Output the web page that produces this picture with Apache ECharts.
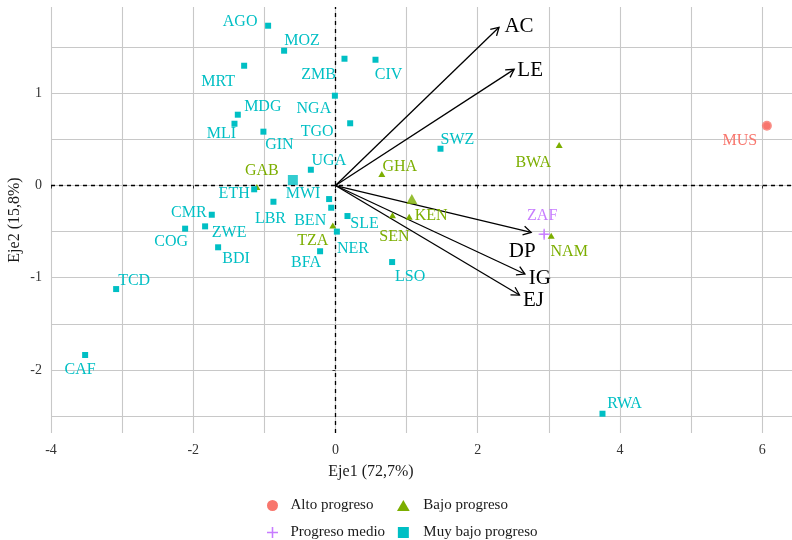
<!DOCTYPE html>
<html><head><meta charset="utf-8">
<script src="https://cdn.jsdelivr.net/npm/echarts@6/dist/echarts.min.js"></script>
<style>html,body{margin:0;padding:0;background:#fff}#c{width:792px;height:540px}</style>
</head><body><div id="c"></div>
<script>
// ---- data ----
const altoNames = ['MUS'];
const altoX = [6.067];
const altoY = [0.649];

const medioNames = ['ZAF'];
const medioX = [2.935];
const medioY = [-0.529];

const bajoNames = ['GAB','GHA','KEN','SEN','TZA','NAM','BWA'];
const bajoX = [-1.105, 0.652, 1.037, 0.802, -0.037, 3.034, 3.146];
const bajoY = [-0.016, 0.125, -0.338, -0.323, -0.434, -0.544, 0.439];

const muyNames = ['AGO','MOZ','MRT','ZMB','CIV','NGA','TGO','MDG','MLI','GIN','UGA','ETH','LBR','MWI','BEN','SLE','NER','BFA','CMR','ZWE','COG','BDI','TCD','CAF','SWZ','LSO','RWA'];
const muyX = [-0.947,-0.722,-1.284,0.127,0.563,-0.008,0.207,-1.373,-1.420,-1.013,-0.346,-1.143,-0.872,-0.089,-0.060,0.169,0.020,-0.216,-1.739,-1.833,-2.114,-1.650,-3.084,-3.520,1.477,0.797,3.755];
const muyY = [1.733,1.462,1.299,1.375,1.364,0.974,0.675,0.768,0.670,0.584,0.171,-0.041,-0.176,-0.147,-0.241,-0.331,-0.500,-0.713,-0.317,-0.443,-0.468,-0.670,-1.123,-1.838,0.399,-0.830,-2.475];

// group mean points (Alto, Medio, Bajo, Muy bajo)
const centroidX = [6.067, 2.935, 1.074, -0.599];
const centroidY = [0.649, -0.529, -0.146, 0.060];

// variable arrows
const varNames = ['AC','LE','DP','IG','EJ'];
const varX = [2.300, 2.513, 2.752, 2.664, 2.588];
const varY = [1.716, 1.260, -0.508, -0.960, -1.188];

const xTickLabels = [-4, -2, 0, 2, 4, 6];
const yTickLabels = [-2, -1, 0, 1];

const groupNames = ['Alto progreso', 'Progreso medio', 'Bajo progreso', 'Muy bajo progreso'];

// ---- layout / style (label offsets in px) ----
const labelOffset = {
  MUS:[-27,15], ZAF:[-2,-18],
  GAB:[5,-16], GHA:[18,-7], KEN:[22,-1], SEN:[2,21], TZA:[-20,15], NAM:[18,16], BWA:[-26,18],
  AGO:[-28,-4], MOZ:[18,-10], MRT:[-26,16], ZMB:[-26,16], CIV:[13,15], NGA:[-21,13], TGO:[-33,9],
  MDG:[25,-8], MLI:[-13,10], GIN:[16,13], UGA:[18,-9], ETH:[-20,5], LBR:[-3,17], MWI:[-26,-5],
  BEN:[-21,13], SLE:[17,8], NER:[16,17], BFA:[-14,12], CMR:[-23,-2], ZWE:[24,6], COG:[-14,13],
  BDI:[18,12], TCD:[18,-8], CAF:[-5,15], SWZ:[17,-9], LSO:[18,15], RWA:[22,-10]
};
const varLabelOffset = [[20,-1],[16,1],[-9,19],[15,4],[14,5]];
const colors = ['#F8766D', '#C77CFF', '#7CAE00', '#00BFC4'];
const plusPath = 'path://M4.3,0H5.7V10H4.3Z M0,4.3H10V5.7H0Z';
const triPath = 'path://M5,0L10,8.66L0,8.66Z';
const sqPath = 'path://M0,0H10V10H0Z';
const symbols = ['circle', plusPath, 'triangle', 'rect'];
const pointSizes = [7, 8, [7,6], 6];
const centroidSizes = [10, 11, [11,10], 10];
const serif = '"Liberation Serif", "DejaVu Serif", serif';
const groupNameLists = [altoNames, medioNames, bajoNames, muyNames];

function mk(names, xs, ys) {
  return names.map((n, i) => ({ name: n, value: [xs[i], ys[i]] }));
}
const groupData = [mk(altoNames, altoX, altoY), mk(medioNames, medioX, medioY), mk(bajoNames, bajoX, bajoY), mk(muyNames, muyX, muyY)];

const chart = echarts.init(document.getElementById('c'), null, { renderer: 'canvas' });

const series = [];
groupNames.forEach((g, gi) => {
  series.push({
    name: g, type: 'scatter', xAxisIndex: 0, yAxisIndex: 0,
    symbol: symbols[gi], symbolSize: pointSizes[gi],
    itemStyle: { color: colors[gi], opacity: 1 },
    data: groupData[gi],
    label: { show: true, position: 'inside', formatter: '{b}', color: colors[gi], fontFamily: serif, fontSize: 16 },
    labelLayout: function (p) {
      const n = groupNameLists[gi][p.dataIndex];
      const o = labelOffset[n] || [0, 0];
      return { dx: o[0], dy: o[1], hideOverlap: false };
    },
    z: 5
  });
});
// mean points
series.push({
  name: 'centroids', type: 'scatter', xAxisIndex: 0, yAxisIndex: 0,
  data: centroidX.map((x, i) => ({
    value: [x, centroidY[i]], symbol: symbols[i], symbolSize: centroidSizes[i],
    itemStyle: { color: colors[i] }
  })),
  z: 6, silent: true
});
// dashed zero lines
series.push({
  name: 'zero', type: 'scatter', data: [], xAxisIndex: 0, yAxisIndex: 0,
  markLine: {
    silent: true, symbol: ['none', 'none'], label: { show: false },
    lineStyle: { color: '#000', type: [4, 4], width: 1.3 },
    data: [{ xAxis: 0 }, { yAxis: 0 }], animation: false
  },
  z: 3
});
// variable arrows
series.push({
  name: 'vars', type: 'custom', coordinateSystem: 'cartesian2d', xAxisIndex: 0, yAxisIndex: 0,
  data: varX.map((x, i) => [x, varY[i]]),
  encode: { x: 0, y: 1 }, clip: false, z: 4,
  renderItem: function (params, api) {
    const i = params.dataIndex;
    const p0 = api.coord([0, 0]);
    const p1 = api.coord([api.value(0), api.value(1)]);
    const ang = Math.atan2(p1[1] - p0[1], p1[0] - p0[0]);
    const L = 9, a = Math.PI / 6;
    const h1 = [p1[0] - L * Math.cos(ang - a), p1[1] - L * Math.sin(ang - a)];
    const h2 = [p1[0] - L * Math.cos(ang + a), p1[1] - L * Math.sin(ang + a)];
    const off = varLabelOffset[i];
    return {
      type: 'group',
      children: [
        { type: 'line', shape: { x1: p0[0], y1: p0[1], x2: p1[0], y2: p1[1] }, style: { stroke: '#000', lineWidth: 1.3 } },
        { type: 'polyline', shape: { points: [h1, p1, h2] }, style: { stroke: '#000', lineWidth: 1.3, fill: null } },
        { type: 'text', style: { text: varNames[i], x: p1[0] + off[0], y: p1[1] + off[1], fill: '#000', font: '21px ' + serif, align: 'center', verticalAlign: 'middle' } }
      ]
    };
  }
});

const gridColor = '#c8c8c8';
const legendText = { fontFamily: serif, fontSize: 15, color: '#1a1a1a', lineHeight: 11 };
chart.setOption({
  animation: false,
  backgroundColor: '#fff',
  grid: { left: 51, right: 0, top: 7, bottom: 107, containLabel: false },
  xAxis: [
    { type: 'value', min: -4, max: 6.42, interval: 1,
      axisLine: { show: false }, axisTick: { show: false }, axisLabel: { show: false },
      splitLine: { show: true, showMinLine: true, showMaxLine: false, lineStyle: { color: gridColor, width: 1.1 } } },
    { type: 'value', min: -4, max: 6.42, position: 'bottom', offset: 0,
      axisLine: { show: false },
      axisTick: { show: true, length: 3, customValues: xTickLabels, lineStyle: { color: '#333' } },
      axisLabel: { show: true, customValues: xTickLabels, margin: 10, color: '#333', fontFamily: serif, fontSize: 14 },
      splitLine: { show: false } }
  ],
  yAxis: [
    { type: 'value', min: -2.684, max: 1.936, splitNumber: 9,
      axisLine: { show: false }, axisTick: { show: false }, axisLabel: { show: false },
      splitLine: { show: true, showMinLine: false, showMaxLine: false, lineStyle: { color: gridColor, width: 1.1 } } },
    { type: 'value', min: -2.684, max: 1.936, position: 'left', offset: 0,
      axisLine: { show: false },
      axisTick: { show: true, length: 3, customValues: yTickLabels, lineStyle: { color: '#333' } },
      axisLabel: { show: true, customValues: yTickLabels, margin: 9, color: '#333', fontFamily: serif, fontSize: 14 },
      splitLine: { show: false } }
  ],
  legend: [
    { orient: 'vertical', left: 262, top: 493, height: 80, itemWidth: 26, itemHeight: 11, itemGap: 12,
      data: [
        { name: 'Alto progreso', icon: 'circle', itemStyle: { color: colors[0] } },
        { name: 'Progreso medio', icon: plusPath, itemStyle: { color: colors[1] } }
      ],
      textStyle: legendText, selectedMode: false },
    { orient: 'vertical', left: 392, top: 493, height: 80, itemWidth: 30, itemHeight: 11, itemGap: 12,
      data: [
        { name: 'Bajo progreso', icon: triPath, itemStyle: { color: colors[2] } },
        { name: 'Muy bajo progreso', icon: sqPath, itemStyle: { color: colors[3] } }
      ],
      textStyle: legendText, selectedMode: false }
  ],
  graphic: [
    { type: 'text', x: 371, y: 472, style: { text: 'Eje1 (72,7%)', font: '16px ' + serif, fill: '#1a1a1a', align: 'center', verticalAlign: 'middle' } },
    { type: 'text', x: 15, y: 220, rotation: Math.PI / 2, style: { text: 'Eje2 (15,8%)', font: '16px ' + serif, fill: '#1a1a1a', align: 'center', verticalAlign: 'middle' } }
  ],
  series: series
});
</script>
</body></html>
